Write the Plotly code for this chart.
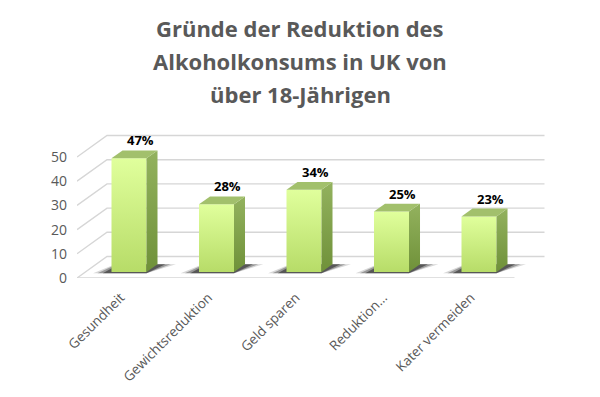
import plotly.graph_objects as go

# ---- data ----
categories = ["Gesundheit", "Gewichtsreduktion", "Geld sparen", "Reduktion...", "Kater vermeiden"]
values = [47, 28, 34, 25, 23]
y_ticks = [0, 10, 20, 30, 40, 50]
title_lines = ["Gründe der Reduktion des", "Alkoholkonsums in UK von", "über 18-Jährigen"]

# ---- geometry / style ----
OFF = 8                      # page body margin of the html page
W, H = 600 - OFF, 397 - OFF
ML, MR, MT, MB = 77 - OFF, 0, 120 - OFF, 119
PX_PER_CAT = 87.5
PX_PER_UNIT = 2.42
plot_w = W - ML - MR
plot_h = H - MT - MB
x_range = [-0.5, -0.5 + plot_w / PX_PER_CAT]
y_range = [0, plot_h / PX_PER_UNIT]

KX = 30 / PX_PER_CAT       # depth offset (x) from front plane to back wall
KY = 21.5 / PX_PER_UNIT    # depth offset (y)
D1, D2 = 0.275, 0.642      # bar front / back depth
BAR_W = 35 / PX_PER_CAT
FLOOR_X0, FLOOR_X1 = -0.5, len(categories) - 0.5

GRID = "#d6d6d6"
TEXT = "#595959"
FONT = "Open Sans"

fig = go.Figure()

# gridlines: side wall + back wall, and front floor edge
gx, gy = [], []
for t in y_ticks:
    gx += [FLOOR_X0, FLOOR_X0 + KX, FLOOR_X1 + KX, None]
    gy += [t, t + KY, t + KY, None]
gx += [FLOOR_X0, FLOOR_X1, None]
gy += [0, 0, None]
fig.add_trace(go.Scatter(x=gx, y=gy, mode="lines", line=dict(color=GRID, width=1.4),
                         hoverinfo="skip", showlegend=False))

ddx = (D2 - D1) * KX
ddy = (D2 - D1) * KY

for i, v in enumerate(values):
    x0 = i - BAR_W / 2 + D1 * KX
    x1 = x0 + BAR_W
    yb = D1 * KY
    yt = v + D1 * KY
    # shadow (layers for soft edge)
    for ext_l, ext_r, op in [(0.21, 0.21, 0.18), (0.16, 0.15, 0.35), (0.10, 0.09, 0.55)]:
        fig.add_trace(go.Scatter(
            x=[x0 - ext_l, x1, x1 + ddx + ext_r, x0 + ddx - ext_l * 0.4, x0 - ext_l],
            y=[yb - 0.5, yb - 0.5, yb + ddy, yb + ddy, yb - 0.5],
            mode="lines", fill="toself", line=dict(width=0),
            fillcolor=f"rgba(35,35,35,{op})", hoverinfo="skip", showlegend=False))
    # front face
    fig.add_trace(go.Scatter(
        x=[x0, x1, x1, x0, x0], y=[yb, yb, yt, yt, yb],
        mode="lines", fill="toself", line=dict(width=0),
        fillgradient=dict(type="vertical", colorscale=[[0, "#b7dc68"], [1, "#e0ff9c"]]),
        hoverinfo="skip", showlegend=False))
    # side face
    fig.add_trace(go.Scatter(
        x=[x1, x1 + ddx, x1 + ddx, x1, x1], y=[yb, yb + ddy, yt + ddy, yt, yb],
        mode="lines", fill="toself", line=dict(width=0),
        fillgradient=dict(type="vertical", colorscale=[[0, "#6f9139"], [1, "#93b25e"]]),
        hoverinfo="skip", showlegend=False))
    # top face
    fig.add_trace(go.Scatter(
        x=[x0, x1, x1 + ddx, x0 + ddx, x0], y=[yt, yt, yt + ddy, yt + ddy, yt],
        mode="lines", fill="toself", line=dict(width=0), fillcolor="#a2c06c",
        hoverinfo="skip", showlegend=False))
    # data label
    fig.add_annotation(x=i + D2 * KX, y=v + D2 * KY, text=f"<b>{v}%</b>", showarrow=False,
                       yanchor="middle", yshift=10,
                       font=dict(family=FONT, size=13, color="black"))

def px_to_paper(px, py):
    # px, py in reference-image pixels
    return (px - OFF - ML) / plot_w, (H - MB - (py - OFF)) / plot_h

for line, cy in zip(title_lines, [28, 60.5, 93.5]):
    px, py = px_to_paper(300, cy)
    fig.add_annotation(x=px, y=py, xref="paper", yref="paper", text=f"<b>{line}</b>",
                       showarrow=False, xanchor="center", yanchor="middle",
                       font=dict(family=FONT, size=22, color=TEXT))

fig.update_layout(
    width=W, height=H,
    margin=dict(l=ML, r=MR, t=MT, b=MB),
    paper_bgcolor="white", plot_bgcolor="white",
    xaxis=dict(range=x_range, tickvals=list(range(len(categories))), ticktext=categories,
               tickangle=-45, showgrid=False, zeroline=False, showline=False,
               ticklabelstandoff=8,
               tickfont=dict(family=FONT, size=13.5, color=TEXT), fixedrange=True),
    yaxis=dict(range=y_range, tickvals=y_ticks, showgrid=False, zeroline=False, showline=False,
               ticklabelstandoff=9,
               tickfont=dict(family=FONT, size=14, color=TEXT), fixedrange=True),
    showlegend=False,
)

fig.write_html("out.html")
